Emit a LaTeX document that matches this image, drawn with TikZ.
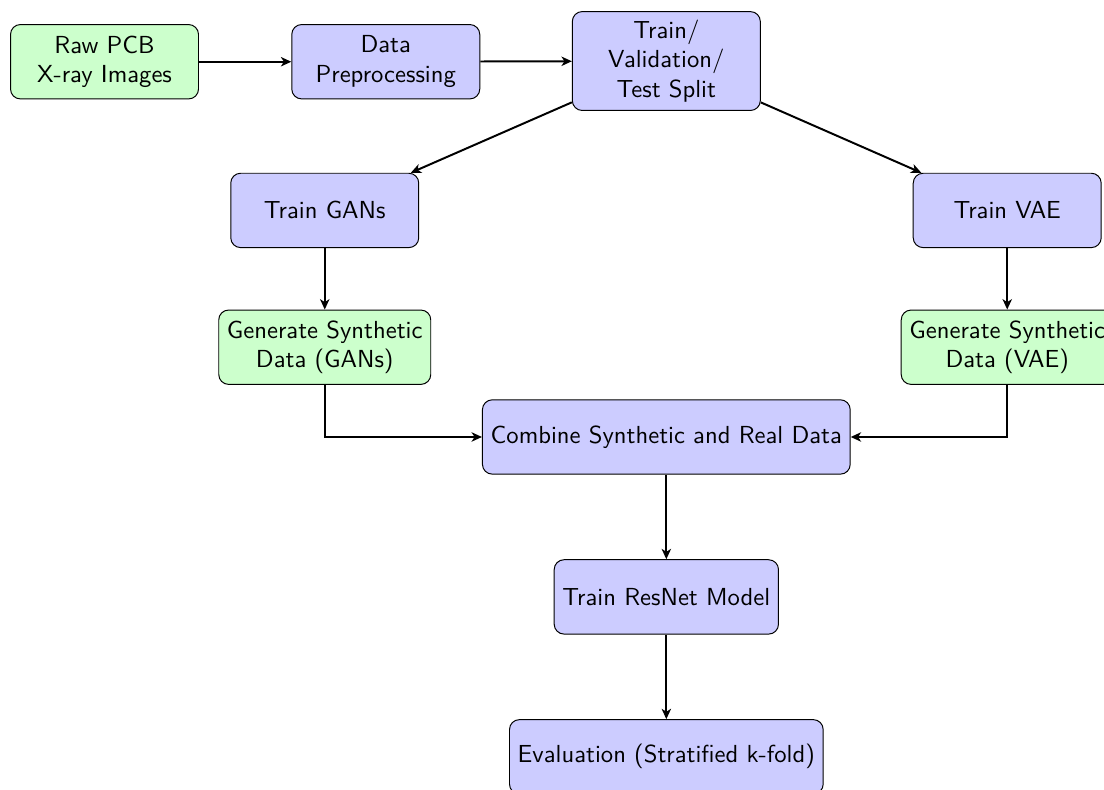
\documentclass[tikz,border=0pt]{standalone}
\usepackage{tikz}
\usetikzlibrary{arrows.meta}
\definecolor{procblue}{HTML}{CCCCFF}
\definecolor{datagreen}{HTML}{CCFFCC}

\begin{document}
\begin{tikzpicture}[>={Stealth[length=4.2pt,width=3.8pt,inset=1.2pt]},
  process/.style={draw, rounded corners, fill=procblue, font=\sffamily, align=center, minimum width=2.68cm, minimum height=1.06cm},
  dataio/.style={process, fill=datagreen},
  flow/.style={->, thick}]
\useasboundingbox (0,0) rectangle (15.74,-11.25);
% Input and preprocessing
\node[dataio] (raw) at (1.49,-0.88) {Raw PCB\\X-ray Images};
\node[process] (prep) at (5.50,-0.88) {Data\\Preprocessing};
\node[process] (split) at (9.50,-0.87) {Train/\\Validation/\\Test Split};
% Generative branches
\node[process] (gan) at (4.63,-3.00) {Train GANs};
\node[process] (vae) at (14.36,-3.00) {Train VAE};
\node[dataio] (gengan) at (4.63,-4.95) {Generate Synthetic\\Data (GANs)};
\node[dataio] (genvae) at (14.36,-4.95) {Generate Synthetic\\Data (VAE)};
% Classifier
\node[process] (combine) at (9.50,-6.23) {Combine Synthetic and Real Data};
\node[process] (resnet) at (9.50,-8.51) {Train ResNet Model};
\node[process] (eval) at (9.50,-10.79) {Evaluation (Stratified k-fold)};

\draw[flow] (raw) -- (prep);
\draw[flow] (prep) -- (split);
\draw[flow] (split) -- (gan);
\draw[flow] (split) -- (vae);
\draw[flow] (gan) -- (gengan);
\draw[flow] (vae) -- (genvae);
\draw[flow] (gengan) |- (combine);
\draw[flow] (genvae) |- (combine);
\draw[flow] (combine) -- (resnet);
\draw[flow] (resnet) -- (eval);
\end{tikzpicture}
\end{document}
